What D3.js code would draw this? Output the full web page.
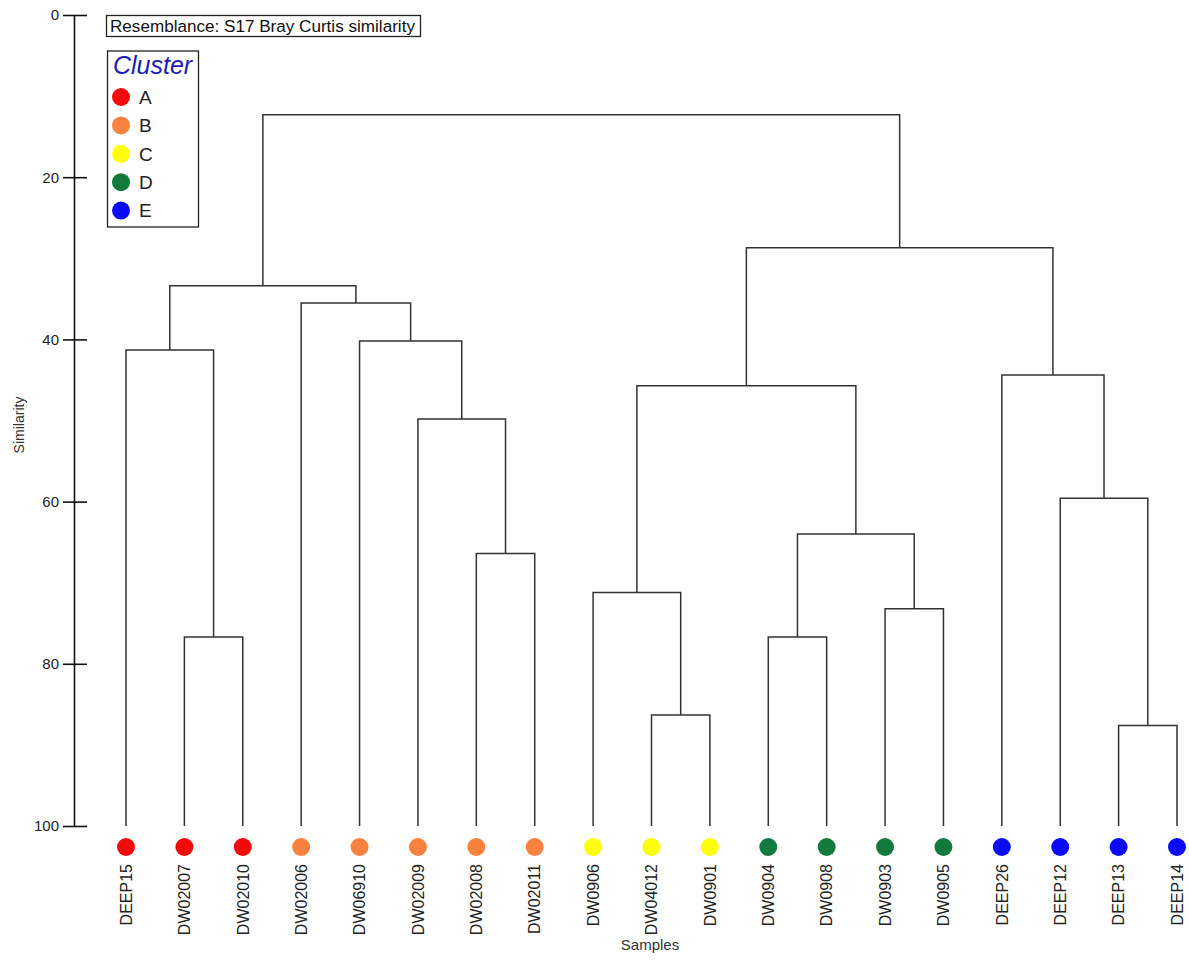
<!DOCTYPE html>
<html>
<head>
<meta charset="utf-8">
<script src="https://cdn.jsdelivr.net/npm/d3@7"></script>
<style>
  html, body { margin: 0; padding: 0; background: #fff; }
  svg { display: block; font-family: Arial, "Liberation Sans", sans-serif; }
</style>
</head>
<body>
<svg id="chart" width="1189" height="960"></svg>
<script>
// Sample order along the x axis (leaf order of the dendrogram)
const samples = ["DEEP15", "DW02007", "DW02010", "DW02006", "DW06910", "DW02009", "DW02008",
  "DW02011", "DW0906", "DW04012", "DW0901", "DW0904", "DW0908", "DW0903", "DW0905",
  "DEEP26", "DEEP12", "DEEP13", "DEEP14"];

// Cluster membership of each sample
const sampleCluster = ["A", "A", "A", "B", "B", "B", "B", "B", "C", "C", "C", "D", "D", "D", "D",
  "E", "E", "E", "E"];

const clusterNames = ["A", "B", "C", "D", "E"];
const clusterColors = ["#f20a0a", "#f7823f", "#ffff0a", "#137a3e", "#0a0af5"];

// Agglomeration steps: [left, right, similarity]
// a string refers to a sample, a number to an earlier step
const merges = [
  ["DW02007", "DW02010", 76.7], // 0
  ["DEEP15", 0, 41.3],          // 1
  ["DW02008", "DW02011", 66.4], // 2
  ["DW02009", 2, 49.8],         // 3
  ["DW06910", 3, 40.2],         // 4
  ["DW02006", 4, 35.5],         // 5
  [1, 5, 33.4],                 // 6
  ["DW04012", "DW0901", 86.3],  // 7
  ["DW0906", 7, 71.2],          // 8
  ["DW0904", "DW0908", 76.7],   // 9
  ["DW0903", "DW0905", 73.2],   // 10
  [9, 10, 64.0],                // 11
  [8, 11, 45.7],                // 12
  ["DEEP13", "DEEP14", 87.6],   // 13
  ["DEEP12", 13, 59.6],         // 14
  ["DEEP26", 14, 44.4],         // 15
  [12, 15, 28.7],               // 16
  [6, 16, 12.3]                 // 17
];

const yTicks = [0, 20, 40, 60, 80, 100];
const titleText = "Resemblance: S17 Bray Curtis similarity";

const svg = d3.select("#chart");

const x = d3.scalePoint().domain(samples).range([126, 1177]);
const y = d3.scaleLinear().domain([0, 100]).range([15, 826]);
const color = d3.scaleOrdinal().domain(clusterNames).range(clusterColors);

// Y axis with ticks crossing the axis line
const axis = d3.axisLeft(y).tickValues(yTicks).tickSizeInner(11).tickSizeOuter(0).tickPadding(4);
const gAxis = svg.append("g").attr("transform", "translate(74,0)").call(axis);
gAxis.select(".domain").attr("stroke", "#111").attr("stroke-width", 1.6);
gAxis.selectAll(".tick line").attr("stroke", "#111").attr("stroke-width", 1.6);
gAxis.selectAll(".tick").append("line").attr("x1", 0).attr("x2", 13)
  .attr("stroke", "#111").attr("stroke-width", 1.6);
gAxis.selectAll(".tick text").attr("fill", "#222").style("font-size", "15px")
  .style("font-family", "Arial, 'Liberation Sans', sans-serif");

svg.append("text")
  .attr("transform", "translate(24,425) rotate(-90)")
  .attr("text-anchor", "middle")
  .attr("fill", "#333")
  .style("font-size", "14px")
  .text("Similarity");

// Dendrogram branches
const nodes = [];
function pos(ref) {
  if (typeof ref === "string") return { x: x(ref), s: 100 };
  return nodes[ref];
}
const branches = svg.append("g")
  .attr("fill", "none").attr("stroke", "#333").attr("stroke-width", 1.5);
merges.forEach(([l, r, s]) => {
  const a = pos(l), b = pos(r);
  nodes.push({ x: (a.x + b.x) / 2, s: s });
  const path = d3.path();
  path.moveTo(a.x, y(a.s));
  path.lineTo(a.x, y(s));
  path.lineTo(b.x, y(s));
  path.lineTo(b.x, y(b.s));
  branches.append("path").attr("d", path.toString());
});

// Leaf symbols and labels
svg.append("g").selectAll("circle").data(samples).join("circle")
  .attr("cx", d => x(d)).attr("cy", 847).attr("r", 9)
  .attr("fill", (d, i) => color(sampleCluster[i]));

svg.append("g").selectAll("text").data(samples).join("text")
  .attr("transform", d => `translate(${x(d)},864) rotate(-90)`)
  .attr("text-anchor", "end")
  .attr("dy", "0.36em")
  .attr("fill", "#222")
  .style("font-size", "16px")
  .text(d => d);

svg.append("text")
  .attr("x", 650).attr("y", 950)
  .attr("text-anchor", "middle")
  .attr("fill", "#333")
  .style("font-size", "15px")
  .text("Samples");

// Resemblance box
const titleG = svg.append("g");
titleG.append("rect").attr("x", 106.5).attr("y", 15.5).attr("width", 314).attr("height", 21)
  .attr("fill", "#fff").attr("stroke", "#222").attr("stroke-width", 1.3);
titleG.append("text").attr("x", 110).attr("y", 32)
  .attr("fill", "#111").style("font-size", "17.1px").text(titleText);

// Cluster legend
const legend = svg.append("g");
legend.append("rect").attr("x", 107.5).attr("y", 51).attr("width", 91).attr("height", 176)
  .attr("fill", "#fff").attr("stroke", "#222").attr("stroke-width", 1.3);
legend.append("text").attr("x", 113).attr("y", 74)
  .attr("fill", "#1c1cb4").style("font-size", "25px").style("font-style", "italic")
  .text("Cluster");
const items = legend.selectAll("g.item").data(clusterNames).join("g")
  .attr("class", "item")
  .attr("transform", (d, i) => `translate(0,${97 + i * 28.4})`);
items.append("circle").attr("cx", 121).attr("cy", 0).attr("r", 9).attr("fill", d => color(d));
items.append("text").attr("x", 139).attr("y", 0).attr("dy", "0.36em")
  .attr("fill", "#222").style("font-size", "19px").text(d => d);
</script>
</body>
</html>
